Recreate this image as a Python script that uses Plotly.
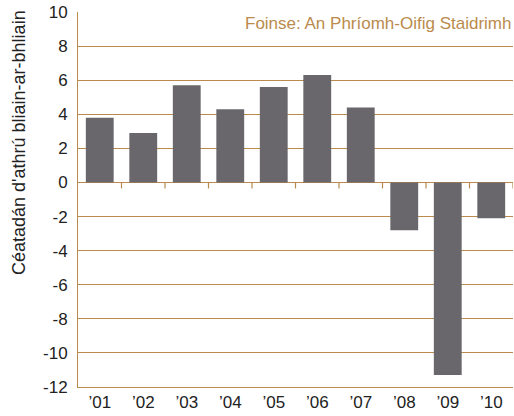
import plotly.graph_objects as go

years = ["’01", "’02", "’03", "’04", "’05", "’06", "’07", "’08", "’09", "’10"]
values = [3.8, 2.9, 5.7, 4.3, 5.6, 6.3, 4.4, -2.8, -11.3, -2.1]
y_ticks = list(range(-12, 11, 2))
y_tick_text = [str(v) for v in y_ticks]  # plain hyphen minus as in the reference

tan = "#ba8b4d"
bar_color = "#69676b"
font_family = "Liberation Sans, Arial, Helvetica, sans-serif"

fig = go.Figure()
fig.add_trace(go.Bar(x=years, y=values, marker=dict(color=bar_color, line=dict(width=0)),
                     showlegend=False, hoverinfo="skip"))

# small tick marks on the zero line at the category boundaries
shapes = []
for i in range(len(years)):
    shapes.append(dict(type="line", xref="x", yref="y", ysizemode="pixel", yanchor=0,
                       x0=i + 0.5, x1=i + 0.5, y0=0, y1=-6, layer="above",
                       line=dict(color=tan, width=1.2)))

fig.update_layout(
    width=514, height=416,
    margin=dict(l=78, r=1, t=12, b=29),
    paper_bgcolor="white", plot_bgcolor="white",
    bargap=0.36,
    font=dict(family=font_family, size=17, color="#222222"),
    shapes=shapes,
    xaxis=dict(type="category", showgrid=False, showline=True, linecolor=tan, linewidth=1,
               ticks="", tickfont=dict(size=17, color="#222222"), range=[-0.5, 9.5],
               automargin=False),
    yaxis=dict(range=[-12, 10], tickvals=y_ticks, ticktext=y_tick_text,
               showgrid=True, gridcolor=tan, gridwidth=1,
               zeroline=True, zerolinecolor=tan, zerolinewidth=1,
               showline=True, linecolor=tan, linewidth=1, mirror=False, automargin=False,
               ticks="", tickfont=dict(size=17, color="#222222"), ticklabelstandoff=6),
    annotations=[
        dict(text="Foinse: An Phríomh-Oifig Staidrimh", xref="paper", yref="paper",
             x=1, y=0.97, xanchor="right", yanchor="middle", showarrow=False,
             font=dict(size=17, color=tan, family=font_family)),
        dict(text="Céatadán d'athrú bliain-ar-bhliain", xref="paper", yref="paper",
             x=-0.136, y=0.653, xanchor="center", yanchor="middle", textangle=-90,
             showarrow=False, font=dict(size=18, color="#222222", family=font_family)),
    ],
)

fig.write_html("out.html", config={"displayModeBar": False},
               post_script="document.body.style.margin='0';document.body.style.overflow='hidden';")
